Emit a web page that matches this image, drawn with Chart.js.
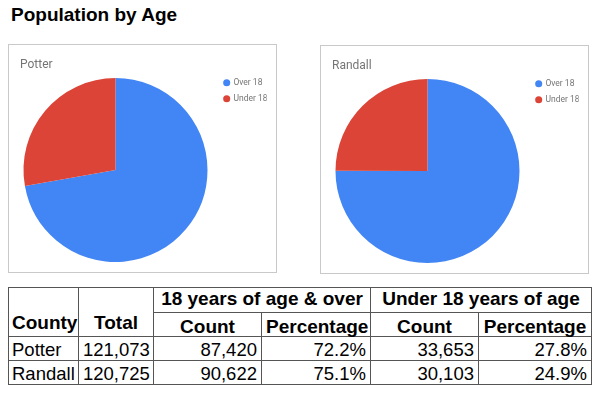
<!DOCTYPE html>
<html>
<head>
<meta charset="utf-8">
<script src="https://cdn.jsdelivr.net/npm/chart.js@4.4.1/dist/chart.umd.min.js"></script>
<style>
  html, body { margin: 0; padding: 0; background: #fff; }
  body { width: 600px; height: 396px; position: relative; overflow: hidden; }
  h1 {
    position: absolute; left: 11px; top: 4px; margin: 0;
    font: bold 19px "Liberation Sans", Arial, sans-serif; color: #000;
  }
  .card {
    position: absolute; width: 269px; height: 229px; box-sizing: border-box;
    border: 1px solid #c9c9c9; background: #fff;
  }
  .card canvas { position: absolute; left: 0; top: 0; }
  .card .name {
    position: absolute; left: 11px; top: 13px;
    font: 12px/12px Roboto, sans-serif; color: #757575;
  }
  table {
    position: absolute; left: 8px; top: 287px;
    border-collapse: collapse; table-layout: fixed; width: 583px;
    font-family: "Liberation Sans", Arial, sans-serif; color: #000;
  }
  td, th {
    border: 1px solid #555; padding: 0 4px; line-height: 1;
    vertical-align: bottom; white-space: nowrap; overflow: visible;
  }
  th { font-size: 19px; font-weight: bold; text-align: center; }
  td { font-size: 18.5px; text-align: right; }
  td.name { text-align: left; padding-left: 3px; }
  th.county { text-align: left; padding-left: 3px; }
  tr.r1 th { height: 20px; padding-bottom: 4px; }
  tr.r2 th { height: 23px; padding-bottom: 0; }
  tr.body td { height: 22px; padding-bottom: 1px; }
</style>
</head>
<body>
<h1>Population by Age</h1>

<div class="card" style="left:8px; top:44px;">
  <canvas id="potter" width="267" height="227"></canvas>
  <div class="name">Potter</div>
</div>
<div class="card" style="left:320px; top:45px;">
  <canvas id="randall" width="267" height="227"></canvas>
  <div class="name">Randall</div>
</div>

<table id="tbl">
  <colgroup>
    <col style="width:70px"><col style="width:75px"><col style="width:108px">
    <col style="width:109px"><col style="width:108px"><col style="width:113px">
  </colgroup>
  <thead>
    <tr class="r1">
      <th rowspan="2" class="county">County</th>
      <th rowspan="2">Total</th>
      <th colspan="2">18 years of age &amp; over</th>
      <th colspan="2">Under 18 years of age</th>
    </tr>
    <tr class="r2">
      <th>Count</th><th>Percentage</th><th>Count</th><th>Percentage</th>
    </tr>
  </thead>
  <tbody id="rows"></tbody>
</table>

<script>
const counties = ['Potter', 'Randall'];
const totals = [121073, 120725];
const over18 = [87420, 90622];
const under18 = [33653, 30103];
const over18Pct = [72.2, 75.1];
const under18Pct = [27.8, 24.9];
const sliceLabels = ['Over 18', 'Under 18'];
const sliceColors = ['#4285f4', '#db4437'];

// table rows
const fmt = (n) => n.toLocaleString('en-US');
const tbody = document.getElementById('rows');
counties.forEach((c, i) => {
  const tr = document.createElement('tr');
  tr.className = 'body';
  tr.innerHTML = `<td class="name">${c}</td><td>${fmt(totals[i])}</td>` +
    `<td>${fmt(over18[i])}</td><td>${over18Pct[i].toFixed(1)}%</td>` +
    `<td>${fmt(under18[i])}</td><td>${under18Pct[i].toFixed(1)}%</td>`;
  tbody.appendChild(tr);
});

function drawPie(id, i) {
  new Chart(document.getElementById(id), {
    type: 'pie',
    data: {
      labels: sliceLabels,
      datasets: [{
        data: [over18[i], under18[i]],
        backgroundColor: sliceColors,
        borderWidth: 0,
        radius: 92,
      }]
    },
    options: {
      responsive: false,
      animation: false,
      events: [],
      layout: { padding: { left: 5.3, top: 26, right: 9.3, bottom: 3 } },
      plugins: {
        tooltip: { enabled: false },
        legend: {
          position: 'right',
          align: 'start',
          maxWidth: 50,
          labels: {
            usePointStyle: true,
            pointStyle: 'circle',
            boxWidth: 5,
            boxHeight: 5,
            padding: 7.5,
            color: '#757575',
            font: { family: 'Roboto', size: 8.5 },
          }
        }
      }
    }
  });
}

drawPie('potter', 0);
drawPie('randall', 1);
</script>
</body>
</html>
